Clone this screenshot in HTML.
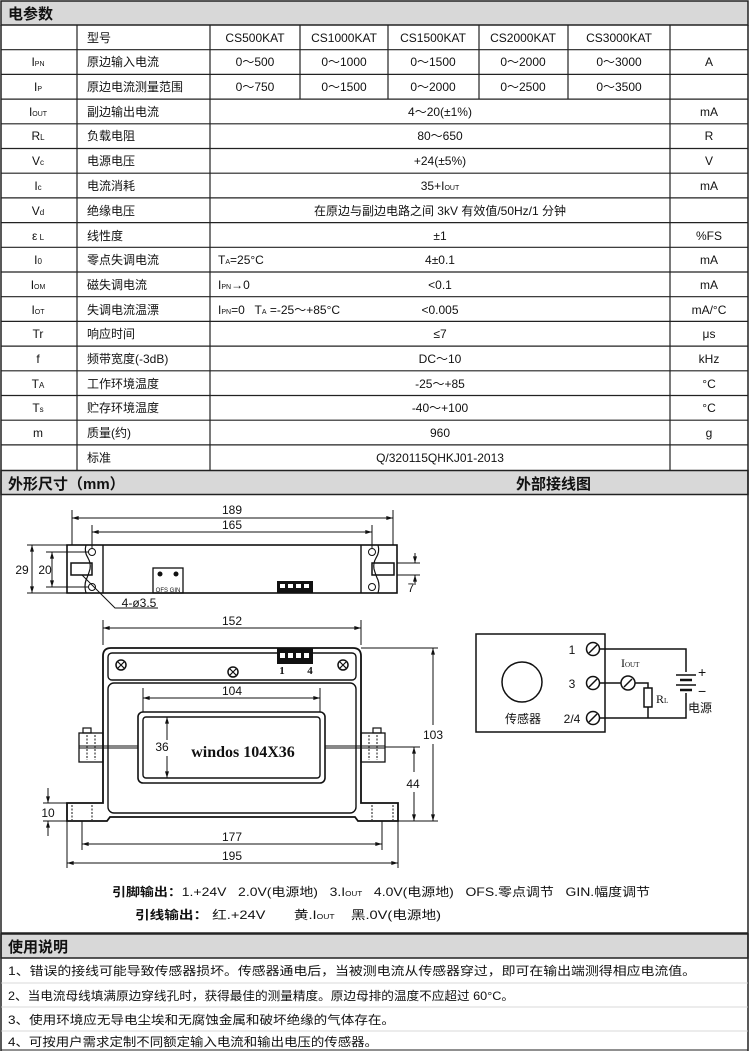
<!DOCTYPE html>
<html><head><meta charset="utf-8"><style>
html,body{margin:0;padding:0;background:#fff;}
svg{display:block;}
text{font-family:"Liberation Sans","Noto Sans CJK SC",sans-serif;fill:#111;white-space:pre;}
.t{font-size:12px;}
.b{font-weight:bold;font-size:15px;}
.d{font-size:12px;}
.serif{font-family:"Liberation Serif",serif;}
</style></head><body>
<svg width="750" height="1051" viewBox="0 0 750 1051" xmlns="http://www.w3.org/2000/svg" xml:space="preserve">
<defs>
<marker id="a" viewBox="0 0 10 6" refX="10" refY="3" markerWidth="8" markerHeight="4" orient="auto-start-reverse"><path d="M0,0 L10,3 L0,6z" fill="#111"/></marker>
</defs>
<rect x="1" y="1" width="747" height="24" fill="#d8d8d8" stroke="#222" stroke-width="1.5"/>
<text x="8" y="19" class="b">电参数</text>
<rect x="1" y="470.5" width="747" height="24" fill="#d8d8d8" stroke="#222" stroke-width="1.5"/>
<text x="8" y="489" class="b">外形尺寸（mm）</text>
<text x="516" y="489" class="b">外部接线图</text>
<rect x="1" y="934" width="747" height="24" fill="#d8d8d8" stroke="#222" stroke-width="1.5"/>
<text x="8" y="952" class="b">使用说明</text>
<line x1="1" y1="25" x2="1" y2="1051" stroke="#222" stroke-width="1.5"/>
<line x1="748" y1="25" x2="748" y2="1051" stroke="#222" stroke-width="1.5"/>
<line x1="1" y1="1050" x2="748" y2="1050" stroke="#222" stroke-width="1"/>

<g stroke="#222" stroke-width="1.2">
<line x1="1" y1="49.7" x2="748" y2="49.7"/><line x1="1" y1="74.4" x2="748" y2="74.4"/>
<line x1="1" y1="99.1" x2="748" y2="99.1"/><line x1="1" y1="123.8" x2="748" y2="123.8"/>
<line x1="1" y1="148.5" x2="748" y2="148.5"/><line x1="1" y1="173.2" x2="748" y2="173.2"/>
<line x1="1" y1="197.9" x2="748" y2="197.9"/><line x1="1" y1="222.6" x2="748" y2="222.6"/>
<line x1="1" y1="247.3" x2="748" y2="247.3"/><line x1="1" y1="272" x2="748" y2="272"/>
<line x1="1" y1="296.7" x2="748" y2="296.7"/><line x1="1" y1="321.4" x2="748" y2="321.4"/>
<line x1="1" y1="346.1" x2="748" y2="346.1"/><line x1="1" y1="370.8" x2="748" y2="370.8"/>
<line x1="1" y1="395.5" x2="748" y2="395.5"/><line x1="1" y1="420.2" x2="748" y2="420.2"/>
<line x1="1" y1="444.9" x2="748" y2="444.9"/>
<line x1="77" y1="25" x2="77" y2="470"/>
<line x1="210" y1="25" x2="210" y2="470"/>
<line x1="670" y1="25" x2="670" y2="470"/>
<line x1="300" y1="25" x2="300" y2="99"/>
<line x1="388" y1="25" x2="388" y2="99"/>
<line x1="479" y1="25" x2="479" y2="99"/>
<line x1="568" y1="25" x2="568" y2="99"/>
</g>
<g class="t">
<g text-anchor="middle">
<text x="38" y="66">I<tspan font-size="7">PN</tspan></text>
<text x="38" y="91">I<tspan font-size="7">P</tspan></text>
<text x="38" y="116">I<tspan font-size="7">OUT</tspan></text>
<text x="38" y="140">R<tspan font-size="8">L</tspan></text>
<text x="38" y="165">V<tspan font-size="8">c</tspan></text>
<text x="38" y="190">I<tspan font-size="8">c</tspan></text>
<text x="38" y="215">V<tspan font-size="8">d</tspan></text>
<text x="38" y="240">ε<tspan font-size="8"> L</tspan></text>
<text x="38" y="264">I<tspan font-size="8">0</tspan></text>
<text x="38" y="289">I<tspan font-size="7">OM</tspan></text>
<text x="38" y="314">I<tspan font-size="7">OT</tspan></text>
<text x="38" y="338">Tr</text>
<text x="38" y="363">f</text>
<text x="38" y="388">T<tspan font-size="8">A</tspan></text>
<text x="38" y="412">T<tspan font-size="8">s</tspan></text>
<text x="38" y="437">m</text>
</g>
<text x="87" y="42">型号</text>
<text x="87" y="66">原边输入电流</text>
<text x="87" y="91">原边电流测量范围</text>
<text x="87" y="116">副边输出电流</text>
<text x="87" y="140">负载电阻</text>
<text x="87" y="165">电源电压</text>
<text x="87" y="190">电流消耗</text>
<text x="87" y="215">绝缘电压</text>
<text x="87" y="240">线性度</text>
<text x="87" y="264">零点失调电流</text>
<text x="87" y="289">磁失调电流</text>
<text x="87" y="314">失调电流温漂</text>
<text x="87" y="338">响应时间</text>
<text x="87" y="363">频带宽度(-3dB)</text>
<text x="87" y="388">工作环境温度</text>
<text x="87" y="412">贮存环境温度</text>
<text x="87" y="437">质量(约)</text>
<text x="87" y="462">标准</text>
<g text-anchor="middle">
<text x="255" y="42">CS500KAT</text><text x="344" y="42">CS1000KAT</text><text x="433" y="42">CS1500KAT</text><text x="523" y="42">CS2000KAT</text><text x="619" y="42">CS3000KAT</text>
<text x="255" y="66">0～500</text><text x="344" y="66">0～1000</text><text x="433" y="66">0～1500</text><text x="523" y="66">0～2000</text><text x="619" y="66">0～3000</text>
<text x="255" y="91">0～750</text><text x="344" y="91">0～1500</text><text x="433" y="91">0～2000</text><text x="523" y="91">0～2500</text><text x="619" y="91">0～3500</text>
<text x="440" y="116">4～20(±1%)</text>
<text x="440" y="140">80～650</text>
<text x="440" y="165">+24(±5%)</text>
<text x="440" y="190">35+I<tspan font-size="7">OUT</tspan></text>
<text x="440" y="215">在原边与副边电路之间 3kV 有效值/50Hz/1 分钟</text>
<text x="440" y="240">±1</text>
<text x="440" y="264">4±0.1</text>
<text x="440" y="289">&lt;0.1</text>
<text x="440" y="314">&lt;0.005</text>
<text x="440" y="338">≤7</text>
<text x="440" y="363">DC～10</text>
<text x="440" y="388">-25～+85</text>
<text x="440" y="412">-40～+100</text>
<text x="440" y="437">960</text>
<text x="440" y="462">Q/320115QHKJ01-2013</text>
<text x="709" y="66">A</text><text x="709" y="116">mA</text><text x="709" y="140">R</text><text x="709" y="165">V</text>
<text x="709" y="190">mA</text><text x="709" y="240">%FS</text><text x="709" y="264">mA</text><text x="709" y="289">mA</text>
<text x="709" y="314">mA/°C</text><text x="709" y="338">μs</text><text x="709" y="363">kHz</text><text x="709" y="388">°C</text>
<text x="709" y="412">°C</text><text x="709" y="437">g</text>
</g>
<text x="218" y="264">T<tspan font-size="7">A</tspan>=25°C</text>
<text x="218" y="289">I<tspan font-size="7">PN</tspan>→0</text>
<text x="218" y="314">I<tspan font-size="7">PN</tspan>=0   T<tspan font-size="7">A</tspan> =-25～+85°C</text>
</g>

<g stroke="#111" fill="none" stroke-width="1">
<line x1="72" y1="510" x2="72" y2="545"/><line x1="393" y1="510" x2="393" y2="545"/>
<line x1="72" y1="518" x2="393" y2="518" marker-start="url(#a)" marker-end="url(#a)"/>
<line x1="92" y1="525" x2="92" y2="548"/><line x1="372" y1="525" x2="372" y2="548"/>
<line x1="92" y1="532" x2="372" y2="532" marker-start="url(#a)" marker-end="url(#a)"/>
<rect x="67" y="545" width="330" height="48" stroke-width="1.6"/>
<line x1="103" y1="545" x2="103" y2="593" stroke-width="1.4"/>
<line x1="361" y1="545" x2="361" y2="593" stroke-width="1.4"/>
<path d="M86,545 Q84,552 88,558 Q91,563 90,569 Q88,576 86,580 Q84,586 86,593" stroke-width="1.2"/>
<path d="M378,545 Q380,552 376,558 Q373,563 374,569 Q376,576 378,580 Q380,586 378,593" stroke-width="1.2"/>
<rect x="71" y="563" width="21" height="12" stroke-width="1.5"/>
<rect x="372" y="563" width="22" height="12" stroke-width="1.5"/>
<circle cx="92" cy="552" r="3.5"/><circle cx="92" cy="587" r="3.5"/>
<circle cx="372" cy="552" r="3.5"/><circle cx="372" cy="587" r="3.5"/>
<rect x="153" y="568" width="30" height="25" stroke-width="1.3"/>
<line x1="27" y1="545" x2="67" y2="545"/><line x1="27" y1="593" x2="67" y2="593"/>
<line x1="32" y1="545" x2="32" y2="593" marker-start="url(#a)" marker-end="url(#a)"/>
<line x1="46" y1="552" x2="88" y2="552"/><line x1="46" y1="587" x2="88" y2="587"/>
<line x1="52" y1="552" x2="52" y2="587" marker-start="url(#a)" marker-end="url(#a)"/>
<path d="M82,575 L115,608 L158,608"/>
<line x1="397" y1="563" x2="420" y2="563"/><line x1="397" y1="575" x2="420" y2="575"/>
<line x1="415" y1="553" x2="415" y2="563" marker-end="url(#a)"/><line x1="415" y1="585" x2="415" y2="575" marker-end="url(#a)"/>
</g>
<circle cx="160" cy="574" r="2.5" fill="#111"/><circle cx="176" cy="574" r="2.5" fill="#111"/>
<rect x="277" y="581" width="36" height="12" fill="#111"/>
<g fill="#fff"><rect x="280" y="584" width="5" height="4"/><rect x="288" y="584" width="5" height="4"/><rect x="296" y="584" width="5" height="4"/><rect x="304" y="584" width="5" height="4"/></g>
<g class="d" text-anchor="middle">
<text x="232" y="514">189</text><text x="232" y="529">165</text>
<text x="22" y="574">29</text><text x="45" y="574">20</text>
<text x="139" y="607">4-ø3.5</text>
<text x="411" y="592">7</text>
<text x="232" y="625">152</text>
<text x="232" y="695">104</text>
<text x="433" y="739">103</text>
<text x="413" y="788">44</text>
<text x="48" y="817">10</text>
<text x="232" y="841">177</text>
<text x="232" y="860">195</text>
</g>
<text x="168" y="592" text-anchor="middle" font-size="6">OFS GIN</text>

<g stroke="#111" fill="none">
<line x1="103" y1="620" x2="103" y2="645"/><line x1="361" y1="620" x2="361" y2="645"/>
<line x1="103" y1="628" x2="361" y2="628" marker-start="url(#a)" marker-end="url(#a)"/>
<path d="M103,803 L103,656 Q103,648 111,648 L353,648 Q361,648 361,656 L361,803 L398,803 L398,821 L358,821 L355,817 L110,817 L107,821 L67,821 L67,803 Z" stroke-width="1.8"/>
<rect x="108" y="653" width="248" height="27" rx="4" stroke-width="1.4"/>
<rect x="108" y="683" width="248" height="130" rx="6" stroke-width="1.4"/>
<rect x="138" y="712" width="187" height="71" rx="5" stroke-width="1.6"/>
<rect x="143" y="717" width="177" height="61" rx="3" stroke-width="1.4"/>
<rect x="79" y="733" width="24" height="29" stroke-width="1.3"/>
<rect x="83" y="728" width="8" height="5" stroke-width="1.2"/>
<rect x="361" y="733" width="24" height="29" stroke-width="1.3"/>
<rect x="373" y="728" width="8" height="5" stroke-width="1.2"/>
<line x1="79" y1="746" x2="138" y2="746"/><line x1="79" y1="748" x2="138" y2="748"/>
<line x1="325" y1="746" x2="385" y2="746"/><line x1="325" y1="748" x2="385" y2="748"/>
<line x1="87" y1="735" x2="87" y2="760" stroke-dasharray="2,1.5"/><line x1="95" y1="735" x2="95" y2="760" stroke-dasharray="2,1.5"/>
<line x1="369" y1="735" x2="369" y2="760" stroke-dasharray="2,1.5"/><line x1="377" y1="735" x2="377" y2="760" stroke-dasharray="2,1.5"/>
<line x1="72" y1="805" x2="72" y2="820" stroke-dasharray="2,1.5"/><line x1="92" y1="805" x2="92" y2="820" stroke-dasharray="2,1.5"/>
<line x1="372" y1="805" x2="372" y2="820" stroke-dasharray="2,1.5"/><line x1="393" y1="805" x2="393" y2="820" stroke-dasharray="2,1.5"/>
<line x1="143" y1="688" x2="143" y2="712"/><line x1="320" y1="688" x2="320" y2="712"/>
<line x1="143" y1="698" x2="320" y2="698" marker-start="url(#a)" marker-end="url(#a)"/>
<line x1="167" y1="717" x2="167" y2="740" marker-start="url(#a)"/><line x1="167" y1="756" x2="167" y2="778" marker-end="url(#a)"/>
<line x1="361" y1="648" x2="438" y2="648"/><line x1="398" y1="821" x2="438" y2="821"/>
<line x1="433" y1="648" x2="433" y2="725" marker-start="url(#a)"/><line x1="433" y1="744" x2="433" y2="821" marker-end="url(#a)"/>
<line x1="385" y1="747" x2="420" y2="747"/>
<line x1="414" y1="747" x2="414" y2="772" marker-start="url(#a)"/><line x1="414" y1="792" x2="414" y2="821" marker-end="url(#a)"/>
<line x1="43" y1="803" x2="67" y2="803"/><line x1="43" y1="821" x2="67" y2="821"/>
<line x1="48" y1="788" x2="48" y2="803" marker-end="url(#a)"/><line x1="48" y1="836" x2="48" y2="821" marker-end="url(#a)"/>
<line x1="82" y1="821" x2="82" y2="850"/><line x1="382" y1="821" x2="382" y2="850"/>
<line x1="82" y1="844" x2="382" y2="844" marker-start="url(#a)" marker-end="url(#a)"/>
<line x1="67" y1="821" x2="67" y2="868"/><line x1="398" y1="821" x2="398" y2="868"/>
<line x1="67" y1="863" x2="398" y2="863" marker-start="url(#a)" marker-end="url(#a)"/>
<g stroke-width="1.5"><circle cx="121" cy="665" r="5"/><circle cx="233" cy="672" r="5"/><circle cx="343" cy="665" r="5"/></g>
<g stroke-width="1.2"><path d="M118,662 l6,6 M124,662 l-6,6"/><path d="M230,669 l6,6 M236,669 l-6,6"/><path d="M340,662 l6,6 M346,662 l-6,6"/></g>
</g>
<rect x="277" y="648" width="36" height="16" fill="#111"/>
<g fill="#fff"><rect x="280" y="653" width="5" height="5"/><rect x="288" y="653" width="5" height="5"/><rect x="296" y="653" width="5" height="5"/><rect x="304" y="653" width="5" height="5"/></g>
<text x="282" y="674" class="serif" font-size="11" font-weight="bold" text-anchor="middle">1</text>
<text x="310" y="674" class="serif" font-size="11" font-weight="bold" text-anchor="middle">4</text>
<text x="162" y="751" class="d" text-anchor="middle">36</text>
<text x="243" y="757" class="serif" font-size="16" font-weight="bold" text-anchor="middle">windos 104X36</text>

<g stroke="#111" fill="none" stroke-width="1.5">
<rect x="476" y="634" width="129" height="98"/>
<circle cx="522" cy="682" r="20"/>
<circle cx="593" cy="649" r="6.5"/><circle cx="593" cy="683" r="6.5"/><circle cx="593" cy="718" r="6.5"/>
<path d="M589,653 l8,-8 M589,687 l8,-8 M589,722 l8,-8"/>
<circle cx="628" cy="683" r="7"/><path d="M624,687 l8,-8"/>
<path d="M600,649 L686,649 L686,672"/>
<line x1="676" y1="675" x2="696" y2="675"/><line x1="680" y1="680" x2="692" y2="680" stroke-width="2.5"/>
<line x1="676" y1="685" x2="696" y2="685"/><line x1="680" y1="690" x2="692" y2="690" stroke-width="2.5"/>
<path d="M686,693 L686,718 L600,718"/>
<path d="M600,683 L621,683 M635,683 L648,683 L648,688"/>
<rect x="644" y="688" width="8" height="19"/>
<line x1="648" y1="707" x2="648" y2="718"/>
</g>
<g class="d">
<text x="572" y="654" text-anchor="middle">1</text>
<text x="572" y="688" text-anchor="middle">3</text>
<text x="572" y="723" text-anchor="middle">2/4</text>
<text x="523" y="723" text-anchor="middle">传感器</text>
<text x="621" y="667" class="serif">I<tspan font-size="7">OUT</tspan></text>
<text x="656" y="703" class="serif">R<tspan font-size="7">L</tspan></text>
<text x="698" y="677" font-size="14">+</text>
<text x="698" y="696" font-size="14">−</text>
<text x="688" y="712">电源</text>
</g>

<g class="t">
<text x="112" y="896" textLength="538" lengthAdjust="spacingAndGlyphs"><tspan font-weight="bold">引脚输出：</tspan>1.+24V   2.0V(电源地)   3.I<tspan font-size="7">OUT</tspan>   4.0V(电源地)   OFS.零点调节   GIN.幅度调节</text>
<text x="135" y="919" textLength="306" lengthAdjust="spacingAndGlyphs"><tspan font-weight="bold">引线输出：</tspan> 红.+24V       黄.I<tspan font-size="7">OUT</tspan>    黑.0V(电源地)</text>
<line x1="1" y1="933" x2="748" y2="933" stroke="#222" stroke-width="1.5"/>
<text x="8" y="975" textLength="688" lengthAdjust="spacingAndGlyphs">1、错误的接线可能导致传感器损坏。传感器通电后，当被测电流从传感器穿过，即可在输出端测得相应电流值。</text>
<text x="8" y="1000" textLength="506" lengthAdjust="spacingAndGlyphs">2、当电流母线填满原边穿线孔时，获得最佳的测量精度。原边母排的温度不应超过 60°C。</text>
<text x="8" y="1024" textLength="387" lengthAdjust="spacingAndGlyphs">3、使用环境应无导电尘埃和无腐蚀金属和破坏绝缘的气体存在。</text>
<text x="8" y="1046" textLength="370" lengthAdjust="spacingAndGlyphs">4、可按用户需求定制不同额定输入电流和输出电压的传感器。</text>
</g>
<g stroke="#ccc" stroke-width="0.8"><line x1="1" y1="983" x2="748" y2="983"/><line x1="1" y1="1007" x2="748" y2="1007"/><line x1="1" y1="1031" x2="748" y2="1031"/></g>
</svg>
</body></html>
